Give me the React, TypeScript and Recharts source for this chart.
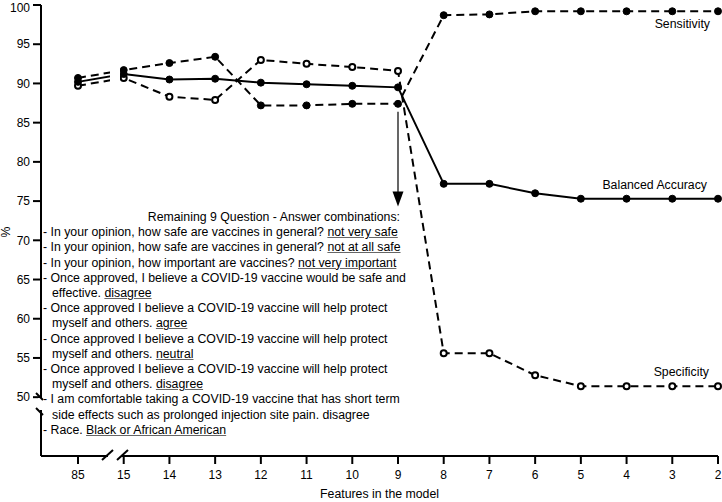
import { LineChart, Line, XAxis, YAxis, ReferenceLine, LabelList, Label } from 'recharts';

// features left in the model (85 = all features, then stepwise removal)
const features = ['85', '15', '14', '13', '12', '11', '10', '9', '8', '7', '6', '5', '4', '3', '2'];
const sensitivity = [90.7, 91.7, 92.6, 93.4, 87.2, 87.2, 87.4, 87.4, 98.7, 98.8, 99.2, 99.2, 99.2, 99.2, 99.2];
const balancedAccuracy = [90.2, 91.2, 90.5, 90.6, 90.1, 89.9, 89.7, 89.5, 77.2, 77.2, 76.0, 75.3, 75.3, 75.3, 75.3];
const specificity = [89.7, 90.7, 88.3, 87.9, 93.0, 92.5, 92.1, 91.6, 55.6, 55.6, 52.8, 51.4, 51.4, 51.4, 51.4];
const yTicks = [50, 55, 60, 65, 70, 75, 80, 85, 90, 95, 100];

const noteTitle = 'Remaining 9 Question - Answer combinations:';
// [plain text, underlined answer, continuation line]
const noteLines: [string, string, boolean][] = [
  ['- In your opinion, how safe are vaccines in general? ', 'not very safe', false],
  ['- In your opinion, how safe are vaccines in general? ', 'not at all safe', false],
  ['- In your opinion, how important are vaccines? ', 'not very important', false],
  ['- Once approved, I believe a COVID-19 vaccine would be safe and', '', false],
  ['effective. ', 'disagree', true],
  ['- Once approved I believe a COVID-19 vaccine will help protect', '', false],
  ['myself and others. ', 'agree', true],
  ['- Once approved I believe a COVID-19 vaccine will help protect', '', false],
  ['myself and others. ', 'neutral', true],
  ['- Once approved I believe a COVID-19 vaccine will help protect', '', false],
  ['myself and others. ', 'disagree', true],
  ['- I am comfortable taking a COVID-19 vaccine that has short term', '', false],
  ['side effects such as prolonged injection site pain. disagree', '', true],
  ['- Race. ', 'Black or African American', false],
];

const data = features.map((f, i) => ({
  features: f,
  sensitivity: sensitivity[i],
  balanced: balancedAccuracy[i],
  specificity: specificity[i],
}));

const FONT = '"Liberation Sans", Arial, Helvetica, sans-serif';
const tickStyle = { fontSize: 12, fill: '#000', fontFamily: FONT };

const endLabel = (text: string, dx: number, dy: number) => (props: any) => {
  if (props.index !== features.length - 1) return null;
  return (
    <text x={props.x + dx} y={props.y + dy} textAnchor="end" fontSize={12.3} fontFamily={FONT} fill="#000">
      {text}
    </text>
  );
};

const arrowShape = (p: any) => (
  <g>
    <line x1={p.x1} y1={p.y1} x2={p.x2} y2={p.y2 - 14} stroke="#000" strokeWidth={1.2} />
    <polygon points={`${p.x2 - 5.5},${p.y2 - 15} ${p.x2 + 5.5},${p.y2 - 15} ${p.x2},${p.y2}`} fill="#000" />
  </g>
);

const filledDot = { r: 3.5, fill: '#000', stroke: '#000', strokeWidth: 1, strokeDasharray: '0' };
const openDot = { r: 3, fill: '#fff', stroke: '#000', strokeWidth: 2, strokeDasharray: '0' };

const App = () => {
  return (
    <div style={{ position: 'absolute', left: 0, top: 0, width: 722, height: 502, background: '#fff', fontFamily: FONT }}>
      <LineChart width={722} height={502} data={data} margin={{ top: 5, right: 4, left: 0, bottom: 0 }}>
        <XAxis
          dataKey="features"
          scale="point"
          padding={{ left: 37, right: 0 }}
          height={46}
          tickSize={8}
          tickMargin={6}
          tick={tickStyle}
          axisLine={{ stroke: '#000', strokeWidth: 2 }}
          tickLine={{ stroke: '#000', strokeWidth: 2 }}
        >
          <Label value="Features in the model" position="insideBottom" offset={4} fontSize={12.3} fontFamily={FONT} fill="#000" />
        </XAxis>
        <YAxis
          type="number"
          domain={[42.5, 100]}
          ticks={yTicks}
          width={41}
          tickSize={8}
          tickMargin={3}
          tick={tickStyle}
          axisLine={{ stroke: '#000', strokeWidth: 2 }}
          tickLine={{ stroke: '#000', strokeWidth: 2 }}
        >
          <Label
            content={() => (
              <text transform="translate(6,232) rotate(-90)" textAnchor="middle" dominantBaseline="central" fontSize={12.3} fontFamily={FONT} fill="#000">
                %
              </text>
            )}
          />
        </YAxis>
        <Line
          dataKey="sensitivity"
          stroke="#000"
          strokeWidth={2}
          strokeDasharray="8 5"
          dot={filledDot}
          activeDot={false}
          isAnimationActive={false}
        >
          <LabelList dataKey="sensitivity" content={endLabel('Sensitivity', -8, 17)} />
        </Line>
        <Line
          dataKey="specificity"
          stroke="#000"
          strokeWidth={2}
          strokeDasharray="8 5"
          dot={openDot}
          activeDot={false}
          isAnimationActive={false}
        >
          <LabelList dataKey="specificity" content={endLabel('Specificity', -9, -10)} />
        </Line>
        <Line
          dataKey="balanced"
          stroke="#000"
          strokeWidth={2}
          dot={filledDot}
          activeDot={false}
          isAnimationActive={false}
        >
          <LabelList dataKey="balanced" content={endLabel('Balanced Accuracy', -11, -9.5)} />
        </Line>
        <ReferenceLine segment={[{ x: '9', y: 86.4 }, { x: '9', y: 74.3 }]} shape={arrowShape} />
      </LineChart>
      {/* axis breaks and the gap in the lines between 85 and 15, drawn over the chart */}
      <svg width={722} height={502} style={{ position: 'absolute', left: 0, top: 0, pointerEvents: 'none' }}>
        <rect x={110} y={60} width={10} height={35} fill="#fff" />
        <rect x={108} y={450} width={14} height={12} fill="#fff" />
        <line x1={102} y1={460} x2={113} y2={450} stroke="#000" strokeWidth={2} />
        <line x1={117} y1={460} x2={128} y2={450} stroke="#000" strokeWidth={2} />
        <rect x={38} y={398} width={6} height={12} fill="#fff" />
        <line x1={36} y1={393} x2={43} y2={400} stroke="#000" strokeWidth={2} />
        <line x1={36} y1={408} x2={43} y2={415} stroke="#000" strokeWidth={2} />
      </svg>
      <div style={{ position: 'absolute', left: 43, top: 210, width: 357, fontSize: 12.3, lineHeight: '15.2px', color: '#000' }}>
        <div style={{ textAlign: 'right', whiteSpace: 'nowrap' }}>{noteTitle}</div>
        {noteLines.map(([plain, answer, cont], i) => (
          <div key={i} style={{ whiteSpace: 'nowrap', paddingLeft: cont ? 9 : 0 }}>
            {plain}
            {answer && <span style={{ textDecoration: 'underline', textDecorationColor: '#666' }}>{answer}</span>}
          </div>
        ))}
      </div>
    </div>
  );
};

export default App;
